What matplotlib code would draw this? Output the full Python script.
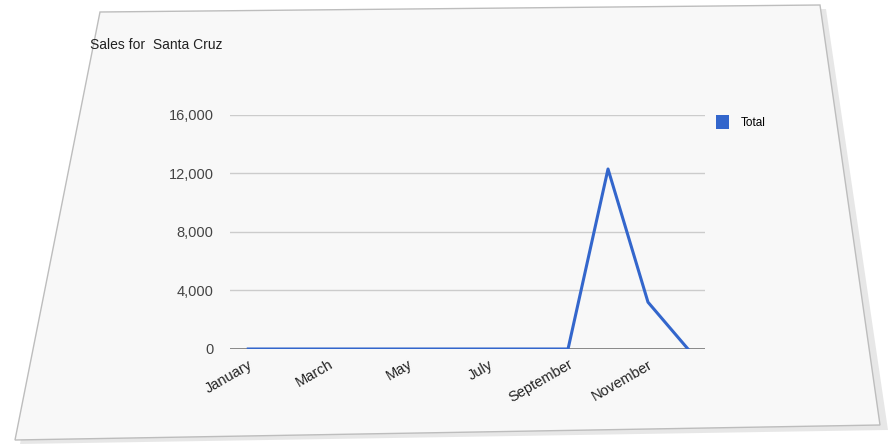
import matplotlib.pyplot as plt
from matplotlib.patches import Polygon, Patch

# данные графика
months = ["January", "February", "March", "April", "May", "June",
          "July", "August", "September", "October", "November", "December"]
total = [0, 0, 0, 0, 0, 0, 0, 0, 0, 12300, 3200, 0]
y_ticks = [0, 4000, 8000, 12000, 16000]
y_labels = ["0", "4,000", "8,000", "12,000", "16,000"]

plt.rcParams['font.family'] = ['Liberation Sans', 'DejaVu Sans']

fig = plt.figure(figsize=(8.96, 4.46), dpi=100)
fig.patch.set_facecolor('white')

# "карточка" со скриншотом (слегка наклонённая), с тенью справа
W, H = 896, 446
def fpts(pts):
    return [(x / W, 1 - y / H) for x, y in pts]

shadow = Polygon(fpts([(104, 16), (826, 9), (888, 430), (20, 444)]),
                 closed=True, transform=fig.transFigure,
                 facecolor='#d8d8d8', edgecolor='none', alpha=0.6, zorder=0)
card = Polygon(fpts([(100, 12), (820, 5), (880, 425), (15, 440)]),
               closed=True, transform=fig.transFigure,
               facecolor='#f8f8f8', edgecolor='#bdbdbd', linewidth=1.0, zorder=0.5)
fig.patches.extend([shadow, card])

ax = fig.add_axes([0.257, 0.2175, 0.53, 0.525])
ax.set_zorder(2)  # оси поверх карточки
ax.set_facecolor('none')

x = list(range(len(months)))
ax.plot(x, total, color='#3366cc', linewidth=2.2, zorder=3)

ax.set_xlim(-0.45, 11.43)
ax.set_ylim(0, 16000)
ax.set_yticks(y_ticks)
ax.set_yticklabels(y_labels, color='#444444', fontsize=10.5)
ax.set_xticks(x[::2])
ax.set_xticklabels(months[::2], rotation=30, ha='right', rotation_mode='anchor',
                   color='#222222', fontsize=10.5)
ax.tick_params(length=0, axis='both')
ax.tick_params(axis='y', pad=12)
ax.tick_params(axis='x', pad=6)

ax.grid(axis='y', color='#cccccc', linewidth=1)
ax.axhline(0, color='#777777', linewidth=1.2, zorder=2)
for s in ax.spines.values():
    s.set_visible(False)

fig.text(90 / W, 1 - 45 / H, "Sales for  Santa Cruz", fontsize=10,
         color='#222222', va='center')

# легенда с квадратным маркером
ax.legend(handles=[Patch(facecolor='#3366cc', edgecolor='none', label='Total')],
          loc='upper left', bbox_to_anchor=(1.0, 1.045), frameon=False,
          handlelength=1.1, handleheight=1.4, fontsize=8.5, handletextpad=1.0)

plt.savefig('out.png', dpi=100)
